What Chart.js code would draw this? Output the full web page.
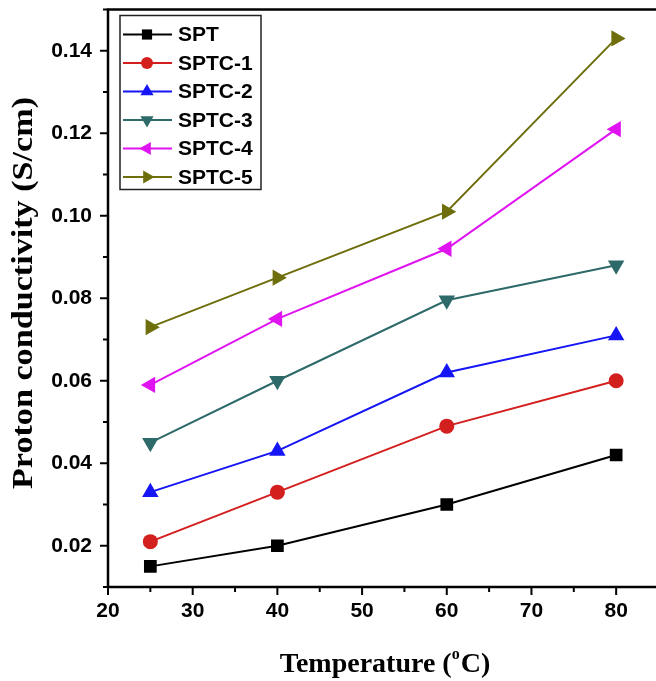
<!DOCTYPE html>
<html>
<head>
<meta charset="utf-8">
<script src="https://cdn.jsdelivr.net/npm/chart.js@4.4.1/dist/chart.umd.min.js"></script>
<style>
html,body{margin:0;padding:0;background:#fff;overflow:hidden;}
#wrap{width:668px;height:681px;}
</style>
</head>
<body>
<div id="wrap"><canvas id="c" width="668" height="681"></canvas></div>
<script>
// temperatures (°C)
const temps = [25, 40, 60, 80];
const labels = ['SPT', 'SPTC-1', 'SPTC-2', 'SPTC-3', 'SPTC-4', 'SPTC-5'];
// proton conductivity (S/cm)
const spt   = [0.015, 0.020, 0.030, 0.042];
const sptc1 = [0.021, 0.033, 0.049, 0.060];
const sptc2 = [0.033, 0.043, 0.062, 0.071];
const sptc3 = [0.045, 0.060, 0.0795, 0.088];
const sptc4 = [0.059, 0.075, 0.092, 0.121];
const sptc5 = [0.073, 0.085, 0.101, 0.143];

const series = [spt, sptc1, sptc2, sptc3, sptc4, sptc5];
const colors = ['#000000', '#d41f1f', '#1515f5', '#2e6a6a', '#e014f0', '#6e6e0c'];
const styles = ['rect', 'circle', 'triangle', 'triangle', 'triangle', 'triangle'];
const rots = [0, 0, 0, 180, 270, 90];
const radii = [9, 7.5, 9.5, 9.5, 9.5, 9.5];

const datasets = series.map((vals, i) => ({
  label: labels[i],
  data: temps.map((t, j) => ({ x: t, y: vals[j] })),
  borderColor: colors[i],
  backgroundColor: colors[i],
  borderWidth: 2,
  pointStyle: styles[i],
  pointRotation: rots[i],
  pointRadius: radii[i],
  pointBorderWidth: 0,
  pointHoverRadius: radii[i],
  tension: 0
}));

const tickFont = { family: '"Liberation Sans", Arial, sans-serif', size: 21, weight: 'bold' };
const serif = '"Liberation Serif", "Times New Roman", serif';

// outward ticks, frame, titles and a boxed legend with line+marker samples
const decor = {
  id: 'decor',
  afterDraw(chart) {
    const ctx = chart.ctx, a = chart.chartArea;
    const xs = chart.scales.x, ys = chart.scales.y;
    ctx.save();
    ctx.strokeStyle = '#000';
    ctx.lineWidth = 2.5;
    ctx.beginPath();
    ctx.moveTo(a.left, a.bottom); ctx.lineTo(a.left, a.top); ctx.lineTo(a.right, a.top);
    ctx.lineTo(a.right, a.bottom); ctx.lineTo(a.left, a.bottom);
    ctx.stroke();
    ctx.lineWidth = 2;
    xs.ticks.forEach(t => {
      const px = xs.getPixelForValue(t.value);
      const len = t.value % 10 === 0 ? 8 : 5;
      ctx.beginPath(); ctx.moveTo(px, a.bottom); ctx.lineTo(px, a.bottom + len); ctx.stroke();
    });
    ys.ticks.forEach(t => {
      const py = ys.getPixelForValue(t.value);
      const len = Math.round(t.value * 100) % 2 === 0 ? 8 : 5;
      ctx.beginPath(); ctx.moveTo(a.left, py); ctx.lineTo(a.left - len, py); ctx.stroke();
    });

    // axis titles
    ctx.fillStyle = '#000';
    ctx.textBaseline = 'middle';
    const big = 'bold 28px ' + serif, small = 'bold 16px ' + serif;
    const main = 'Temperature (', sup = 'o', tail = 'C)';
    ctx.font = big;
    const wMain = ctx.measureText(main).width, wTail = ctx.measureText(tail).width;
    ctx.font = small;
    const wSup = ctx.measureText(sup).width + 1;
    let x0 = 385 - (wMain + wSup + wTail) / 2;
    const ty = 665;
    ctx.textAlign = 'left';
    ctx.font = big;
    ctx.fillText(main, x0, ty);
    ctx.font = small;
    ctx.fillText(sup, x0 + wMain, ty - 10);
    ctx.font = big;
    ctx.fillText(tail, x0 + wMain + wSup, ty);

    ctx.save();
    ctx.font = 'bold 30px ' + serif;
    const yt = 'Proton conductivity (S/cm)';
    const stretch = 392 / ctx.measureText(yt).width;
    ctx.translate(24, 293);
    ctx.rotate(-Math.PI / 2);
    ctx.scale(stretch, 1);
    ctx.textAlign = 'center';
    ctx.fillText(yt, 0, 0);
    ctx.restore();

    // legend
    const lx = a.left + 12, ly = a.top + 6, lw = 141, lh = 174;
    ctx.lineWidth = 1.5;
    ctx.strokeStyle = '#222';
    ctx.strokeRect(lx, ly, lw, lh);
    ctx.font = 'bold 21px "Liberation Sans", Arial, sans-serif';
    chart.data.datasets.forEach((ds, i) => {
      const ry = ly + 19 + i * 28.5;
      ctx.strokeStyle = ds.borderColor;
      ctx.lineWidth = 2;
      ctx.beginPath(); ctx.moveTo(lx + 3, ry); ctx.lineTo(lx + 52, ry); ctx.stroke();
      ctx.fillStyle = ds.backgroundColor;
      Chart.helpers.drawPoint(ctx, { pointStyle: ds.pointStyle, rotation: ds.pointRotation, radius: ds.pointRadius * 0.8, borderWidth: 0 }, lx + 27, ry);
      ctx.fillStyle = '#000';
      ctx.textAlign = 'left';
      ctx.fillText(ds.label, lx + 58, ry + 1);
    });
    ctx.restore();
  }
};

new Chart(document.getElementById('c'), {
  type: 'line',
  data: { datasets },
  plugins: [decor],
  options: {
    responsive: false,
    animation: false,
    layout: { padding: { top: 7, right: 6, left: 0, bottom: 0 } },
    plugins: { legend: { display: false }, tooltip: { enabled: false } },
    scales: {
      x: {
        type: 'linear', min: 20, max: 85,
        ticks: { stepSize: 5, color: '#000', font: tickFont, padding: 12, maxRotation: 0,
          callback: v => v % 10 === 0 ? String(v) : '' },
        grid: { display: false, drawTicks: false },
        border: { display: false },
        afterFit: s => { s.height = 94; s.paddingLeft = 0; s.paddingRight = 0; }
      },
      y: {
        min: 0.01, max: 0.15,
        ticks: { stepSize: 0.01, color: '#000', font: tickFont, padding: 16,
          callback: v => Math.round(v * 100) % 2 === 0 && v > 0.015 && v < 0.145 ? v.toFixed(2) : '' },
        grid: { display: false, drawTicks: false },
        border: { display: false },
        afterFit: s => { s.width = 108; s.paddingTop = 0; s.paddingBottom = 0; }
      }
    }
  }
});
</script>
</body>
</html>
